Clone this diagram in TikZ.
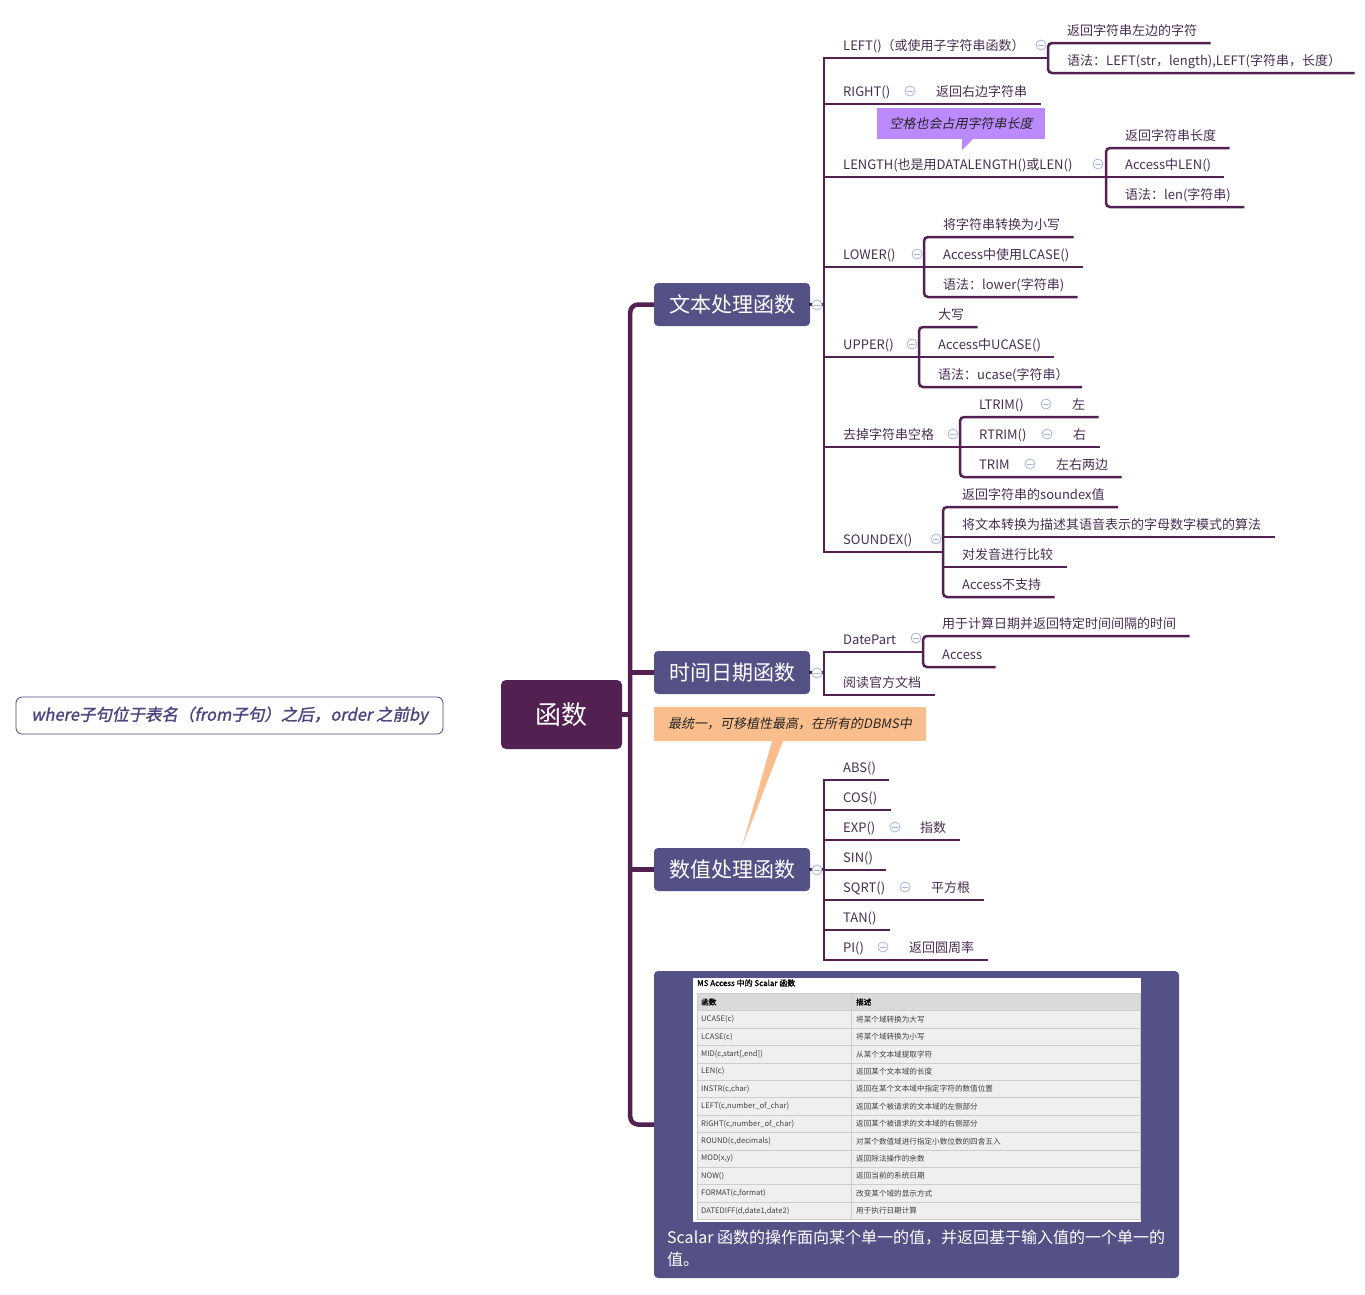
\documentclass[tikz,border=0pt]{standalone}
\usepackage{fontspec}
\setmainfont{Noto Sans CJK SC}
\newfontfamily\slantfont[FakeSlant=0.2]{Noto Sans CJK SC}
\newfontfamily\noteboldfont[FakeSlant=0.2,FakeBold=1.5]{Noto Sans CJK SC}
\newfontfamily\heavyfont[FakeBold=1.5]{Noto Sans CJK SC}
\usepackage{tikz}
\usetikzlibrary{positioning}
\definecolor{mPlum}{RGB}{83,33,81}
\definecolor{mSlate}{RGB}{84,81,134}
\definecolor{mLeaf}{RGB}{72,45,82}
\definecolor{mFold}{RGB}{165,180,222}
\definecolor{mLilac}{RGB}{187,138,255}
\definecolor{mPeach}{RGB}{249,190,140}
\definecolor{mNote}{RGB}{78,68,128}
\definecolor{mGrid}{RGB}{205,205,205}
\definecolor{mRow}{RGB}{239,239,239}
\definecolor{mHead}{RGB}{218,218,218}
\tikzset{
  rootbox/.style={
    fill=mPlum,
    rounded corners=5pt,
    text=white,
    font=\fontsize{26pt}{30pt}\selectfont,
    minimum width=121pt,
    minimum height=69pt
  },
  topicbox/.style={
    fill=mSlate,
    rounded corners=4pt,
    text=white,
    font=\fontsize{21pt}{25pt}\selectfont,
    minimum width=156pt,
    minimum height=43pt
  },
  leaf/.style={
    anchor=base west,
    inner sep=0pt,
    text=mLeaf,
    font=\fontsize{13pt}{15pt}\selectfont
  },
  ulL/.style={shift={(-19pt,-8pt)}},
  ulR/.style={shift={(12pt,-8pt)}},
  uline/.style={
    append after command={([ulL]\tikzlastnode.base west) edge[branch] ([ulR]\tikzlastnode.base east)}
  },
  branch/.style={draw=mPlum, line width=2.5pt, line cap=rect},
  trunk/.style={draw=mPlum, line width=4.5pt},
  fold/.style={
    circle,
    draw=mFold,
    fill=white,
    line width=0.8pt,
    minimum size=10pt,
    inner sep=0pt,
    path picture={\draw[mFold, line width=0.8pt]
      ([xshift=-2.8pt]path picture bounding box.center) -- ([xshift=2.8pt]path picture bounding box.center);}
  },
  notebubble/.style={
    fill=#1,
    inner sep=0pt,
    text=black!85,
    font=\slantfont\fontsize{13pt}{15pt}\selectfont
  },
  cell/.style={
    anchor=west,
    inner sep=0pt,
    text=black!75,
    font=\fontsize{7.6pt}{8pt}\selectfont
  }
}

\begin{document}
\begin{tikzpicture}[x=1pt, y=-1pt]
  \useasboundingbox (0,0) rectangle (1365,1294);

  % Tema central e ramos
  \node[rootbox] (root) at (561.5,714.5) {函数};
  \node[draw=mNote, fill=white, rounded corners=6pt, line width=0.8pt, minimum width=427pt, minimum height=37pt,
    text=mNote, font=\noteboldfont\fontsize{16.5pt}{18pt}\selectfont]
    (note) at (229.5,715.5) {where子句位于表名（from子句）之后，order 之前by};
  \node[topicbox] (t1) at (732,304.5) {文本处理函数};
  \node[topicbox] (t2) at (732,672.5) {时间日期函数};
  \node[topicbox] (t3) at (732,869.5) {数值处理函数};
  \node[fill=mSlate, rounded corners=4pt, minimum width=525pt, minimum height=307pt] (img) at (916.5,1124.5) {};

  \coordinate (tk) at ([xshift=8pt]root.east);
  \draw[trunk, rounded corners=8pt] (t1.west) -| (tk) |- (img.west);
  \draw[trunk] (root.east) -- (tk);
  \draw[trunk] (tk |- t2.west) -- (t2.west);
  \draw[trunk] (tk |- t3.west) -- (t3.west);

  % Texto
  \node[leaf] (l1) at (843,50) {LEFT()（或使用子字符串函数）};
  \node[leaf] (l1a) at (1067,35) {返回字符串左边的字符};
  \node[leaf] (l1b) at (1067,65) {语法：LEFT(str，length),LEFT(字符串，长度）};
  \node[leaf] (l2) at (843,96) {RIGHT()};
  \node[leaf] (l2a) at (936,96) {返回右边字符串};
  \node[leaf] (l3) at (843,169) {LENGTH(也是用DATALENGTH()或LEN()};
  \node[leaf] (l3a) at (1125,140) {返回字符串长度};
  \node[leaf, uline] (l3b) at (1125,169) {Access中LEN()};
  \node[leaf] (l3c) at (1125,199) {语法：len(字符串)};
  \node[leaf] (l4) at (843,259) {LOWER()};
  \node[leaf] (l4a) at (943,229) {将字符串转换为小写};
  \node[leaf, uline] (l4b) at (943,259) {Access中使用LCASE()};
  \node[leaf] (l4c) at (943,289) {语法：lower(字符串)};
  \node[leaf] (l5) at (843,349) {UPPER()};
  \node[leaf] (l5a) at (938,319) {大写};
  \node[leaf, uline] (l5b) at (938,349) {Access中UCASE()};
  \node[leaf] (l5c) at (938,379) {语法：ucase(字符串）};
  \node[leaf] (l6) at (843,439) {去掉字符串空格};
  \node[leaf] (l6a) at (979,409) {LTRIM()};
  \node[leaf] (l6aa) at (1072,409) {左};
  \node[leaf] (l6b) at (979,439) {RTRIM()};
  \node[leaf] (l6bb) at (1073,439) {右};
  \node[leaf] (l6c) at (979,469) {TRIM};
  \node[leaf] (l6cc) at (1056,469) {左右两边};
  \node[leaf] (l7) at (843,544) {SOUNDEX()};
  \node[leaf] (l7a) at (962,499) {返回字符串的soundex值};
  \node[leaf, uline] (l7b) at (962,529) {将文本转换为描述其语音表示的字母数字模式的算法};
  \node[leaf, uline] (l7c) at (962,559) {对发音进行比较};
  \node[leaf] (l7d) at (962,589) {Access不支持};

  \draw[branch] (t1.east) -| ([ulL]l1.base west);
  \draw[branch] (t1.east) -| ([ulL]l7.base west);
  \draw[branch] ([ulL]l1.base west) -| ([ulL,yshift=-6pt]l1a.base west);
  \draw[branch, rounded corners=4pt] ([ulR]l1a.base east) -- ([ulL]l1a.base west) -- ([ulL]l1b.base west) -- ([ulR]l1b.base east);
  \draw[branch] ([ulL]l2.base west) -- ([ulR]l2a.base east);
  \draw[branch] ([ulL]l3.base west) -| ([ulL,yshift=-6pt]l3a.base west);
  \draw[branch, rounded corners=4pt] ([ulR]l3a.base east) -- ([ulL]l3a.base west) -- ([ulL]l3c.base west) -- ([ulR]l3c.base east);
  \draw[branch] ([ulL]l4.base west) -| ([ulL,yshift=-6pt]l4a.base west);
  \draw[branch, rounded corners=4pt] ([ulR]l4a.base east) -- ([ulL]l4a.base west) -- ([ulL]l4c.base west) -- ([ulR]l4c.base east);
  \draw[branch] ([ulL]l5.base west) -| ([ulL,yshift=-6pt]l5a.base west);
  \draw[branch, rounded corners=4pt] ([ulR]l5a.base east) -- ([ulL]l5a.base west) -- ([ulL]l5c.base west) -- ([ulR]l5c.base east);
  \draw[branch] ([ulL]l6.base west) -| ([ulL,yshift=-6pt]l6a.base west);
  \draw[branch, rounded corners=4pt] ([ulR]l6aa.base east) -- ([ulL]l6a.base west) -- ([ulL]l6c.base west) -- ([ulR]l6cc.base east);
  \draw[branch] ([ulL]l6b.base west) -- ([ulR]l6bb.base east);
  \draw[branch] ([ulL]l7.base west) -| ([ulL,yshift=-6pt]l7a.base west);
  \draw[branch, rounded corners=4pt] ([ulR]l7a.base east) -- ([ulL]l7a.base west) -- ([ulL]l7d.base west) -- ([ulR]l7d.base east);

  \node[notebubble=mLilac, minimum width=168pt, minimum height=31pt] (pc) at (961,123.5) {空格也会占用字符串长度};
  \fill[mLilac] ([xshift=1pt]pc.south) -- ([xshift=12pt]pc.south) -- ([shift={(1pt,-11pt)}]pc.south) -- cycle;

  % Data e hora
  \node[leaf] (d1) at (843,644) {DatePart};
  \node[leaf] (d1a) at (942,628) {用于计算日期并返回特定时间间隔的时间};
  \node[leaf] (d1b) at (942,659) {Access};
  \node[leaf, uline] (d2) at (843,687) {阅读官方文档};

  \draw[branch] (t2.east) -| ([ulL]d1.base west);
  \draw[branch] (t2.east) -| ([ulL]d2.base west);
  \draw[branch] ([ulL]d1.base west) -| ([ulL,yshift=-6pt]d1a.base west);
  \draw[branch, rounded corners=4pt] ([ulR]d1a.base east) -- ([ulL]d1a.base west) -- ([ulL]d1b.base west) -- ([ulR]d1b.base east);

  \node[notebubble=mPeach, minimum width=272pt, minimum height=34pt] (oc) at (790,724) {最统一，可移植性最高，在所有的DBMS中};
  \fill[mPeach] ([xshift=-18pt]oc.south) -- ([xshift=-7pt]oc.south) -- ([shift={(10pt,1pt)}]t3.north) -- cycle;

  % Numericas
  \node[leaf, uline] (n1) at (843,772) {ABS()};
  \node[leaf, uline] (n2) at (843,802) {COS()};
  \node[leaf] (n3) at (843,832) {EXP()};
  \node[leaf] (n3a) at (920,832) {指数};
  \node[leaf, uline] (n4) at (843,862) {SIN()};
  \node[leaf] (n5) at (843,892) {SQRT()};
  \node[leaf] (n5a) at (931,892) {平方根};
  \node[leaf, uline] (n6) at (843,922) {TAN()};
  \node[leaf] (n7) at (843,952) {PI()};
  \node[leaf] (n7a) at (909,952) {返回圆周率};

  \draw[branch] (t3.east) -| ([ulL]n1.base west);
  \draw[branch] (t3.east) -| ([ulL]n7.base west);
  \draw[branch] ([ulL]n3.base west) -- ([ulR]n3a.base east);
  \draw[branch] ([ulL]n5.base west) -- ([ulR]n5a.base east);
  \draw[branch] ([ulL]n7.base west) -- ([ulR]n7a.base east);

  % Tabela Scalar
  \node[fill=white, inner sep=0pt, minimum width=448pt, minimum height=244pt] (panel) at (917,1100) {};
  \node[cell, text=black, font=\heavyfont\fontsize{8pt}{9pt}\selectfont] (ttl) at (697,983) {MS Access 中的 Scalar 函数};
  \draw[mGrid, line width=0.7pt, fill=mHead] (697,993.3) rectangle (851,1010.7) (851,993.3) rectangle (1140,1010.7);
  \node[cell, text=black, font=\heavyfont\fontsize{7.6pt}{8pt}\selectfont] (hd1) at (701,1002) {函数};
  \node[cell, text=black, font=\heavyfont\fontsize{7.6pt}{8pt}\selectfont] (hd2) at (856,1002) {描述};
  \foreach \fn/\ds [count=\i] in {UCASE(c)/将某个域转换为大写, LCASE(c)/将某个域转换为小写,
      {MID(c,start[,end])}/从某个文本域提取字符, LEN(c)/返回某个文本域的长度,
      {INSTR(c,char)}/返回在某个文本域中指定字符的数值位置, {LEFT(c,number\_of\_char)}/返回某个被请求的文本域的左侧部分,
      {RIGHT(c,number\_of\_char)}/返回某个被请求的文本域的右侧部分, {ROUND(c,decimals)}/对某个数值域进行指定小数位数的四舍五入,
      {MOD(x,y)}/返回除法操作的余数, NOW()/返回当前的系统日期,
      {FORMAT(c,format)}/改变某个域的显示方式, {DATEDIFF(d,date1,date2)}/用于执行日期计算} {
    \draw[mGrid, line width=0.7pt, fill=mRow] (697,{993.3+17.4*\i}) rectangle (851,{1010.7+17.4*\i})
      (851,{993.3+17.4*\i}) rectangle (1140,{1010.7+17.4*\i});
    \node[cell] (fn\i) at (701,{1002+17.4*\i}) {\fn};
    \node[cell] (ds\i) at (856,{1002+17.4*\i}) {\ds};
  }
  \node[anchor=base west, inner sep=0pt, text=white, font=\fontsize{16pt}{18pt}\selectfont]
    (cap1) at (667,1243) {Scalar 函数的操作面向某个单一的值，并返回基于输入值的一个单一的};
  \node[anchor=base west, inner sep=0pt, text=white, font=\fontsize{16pt}{18pt}\selectfont]
    (cap2) at (667,1265) {值。};

  % Botoes de recolher
  \foreach \x/\y [count=\i] in {1041/45, 910/91, 1098/164, 917/254, 912/344, 953/434, 1046/404, 1047/434,
      1030/464, 936/539, 916/638, 895/827, 905/887, 883/947, 817/305, 817/673, 817/870}
    \node[fold] (fd\i) at (\x,\y) {};
\end{tikzpicture}
\end{document}
